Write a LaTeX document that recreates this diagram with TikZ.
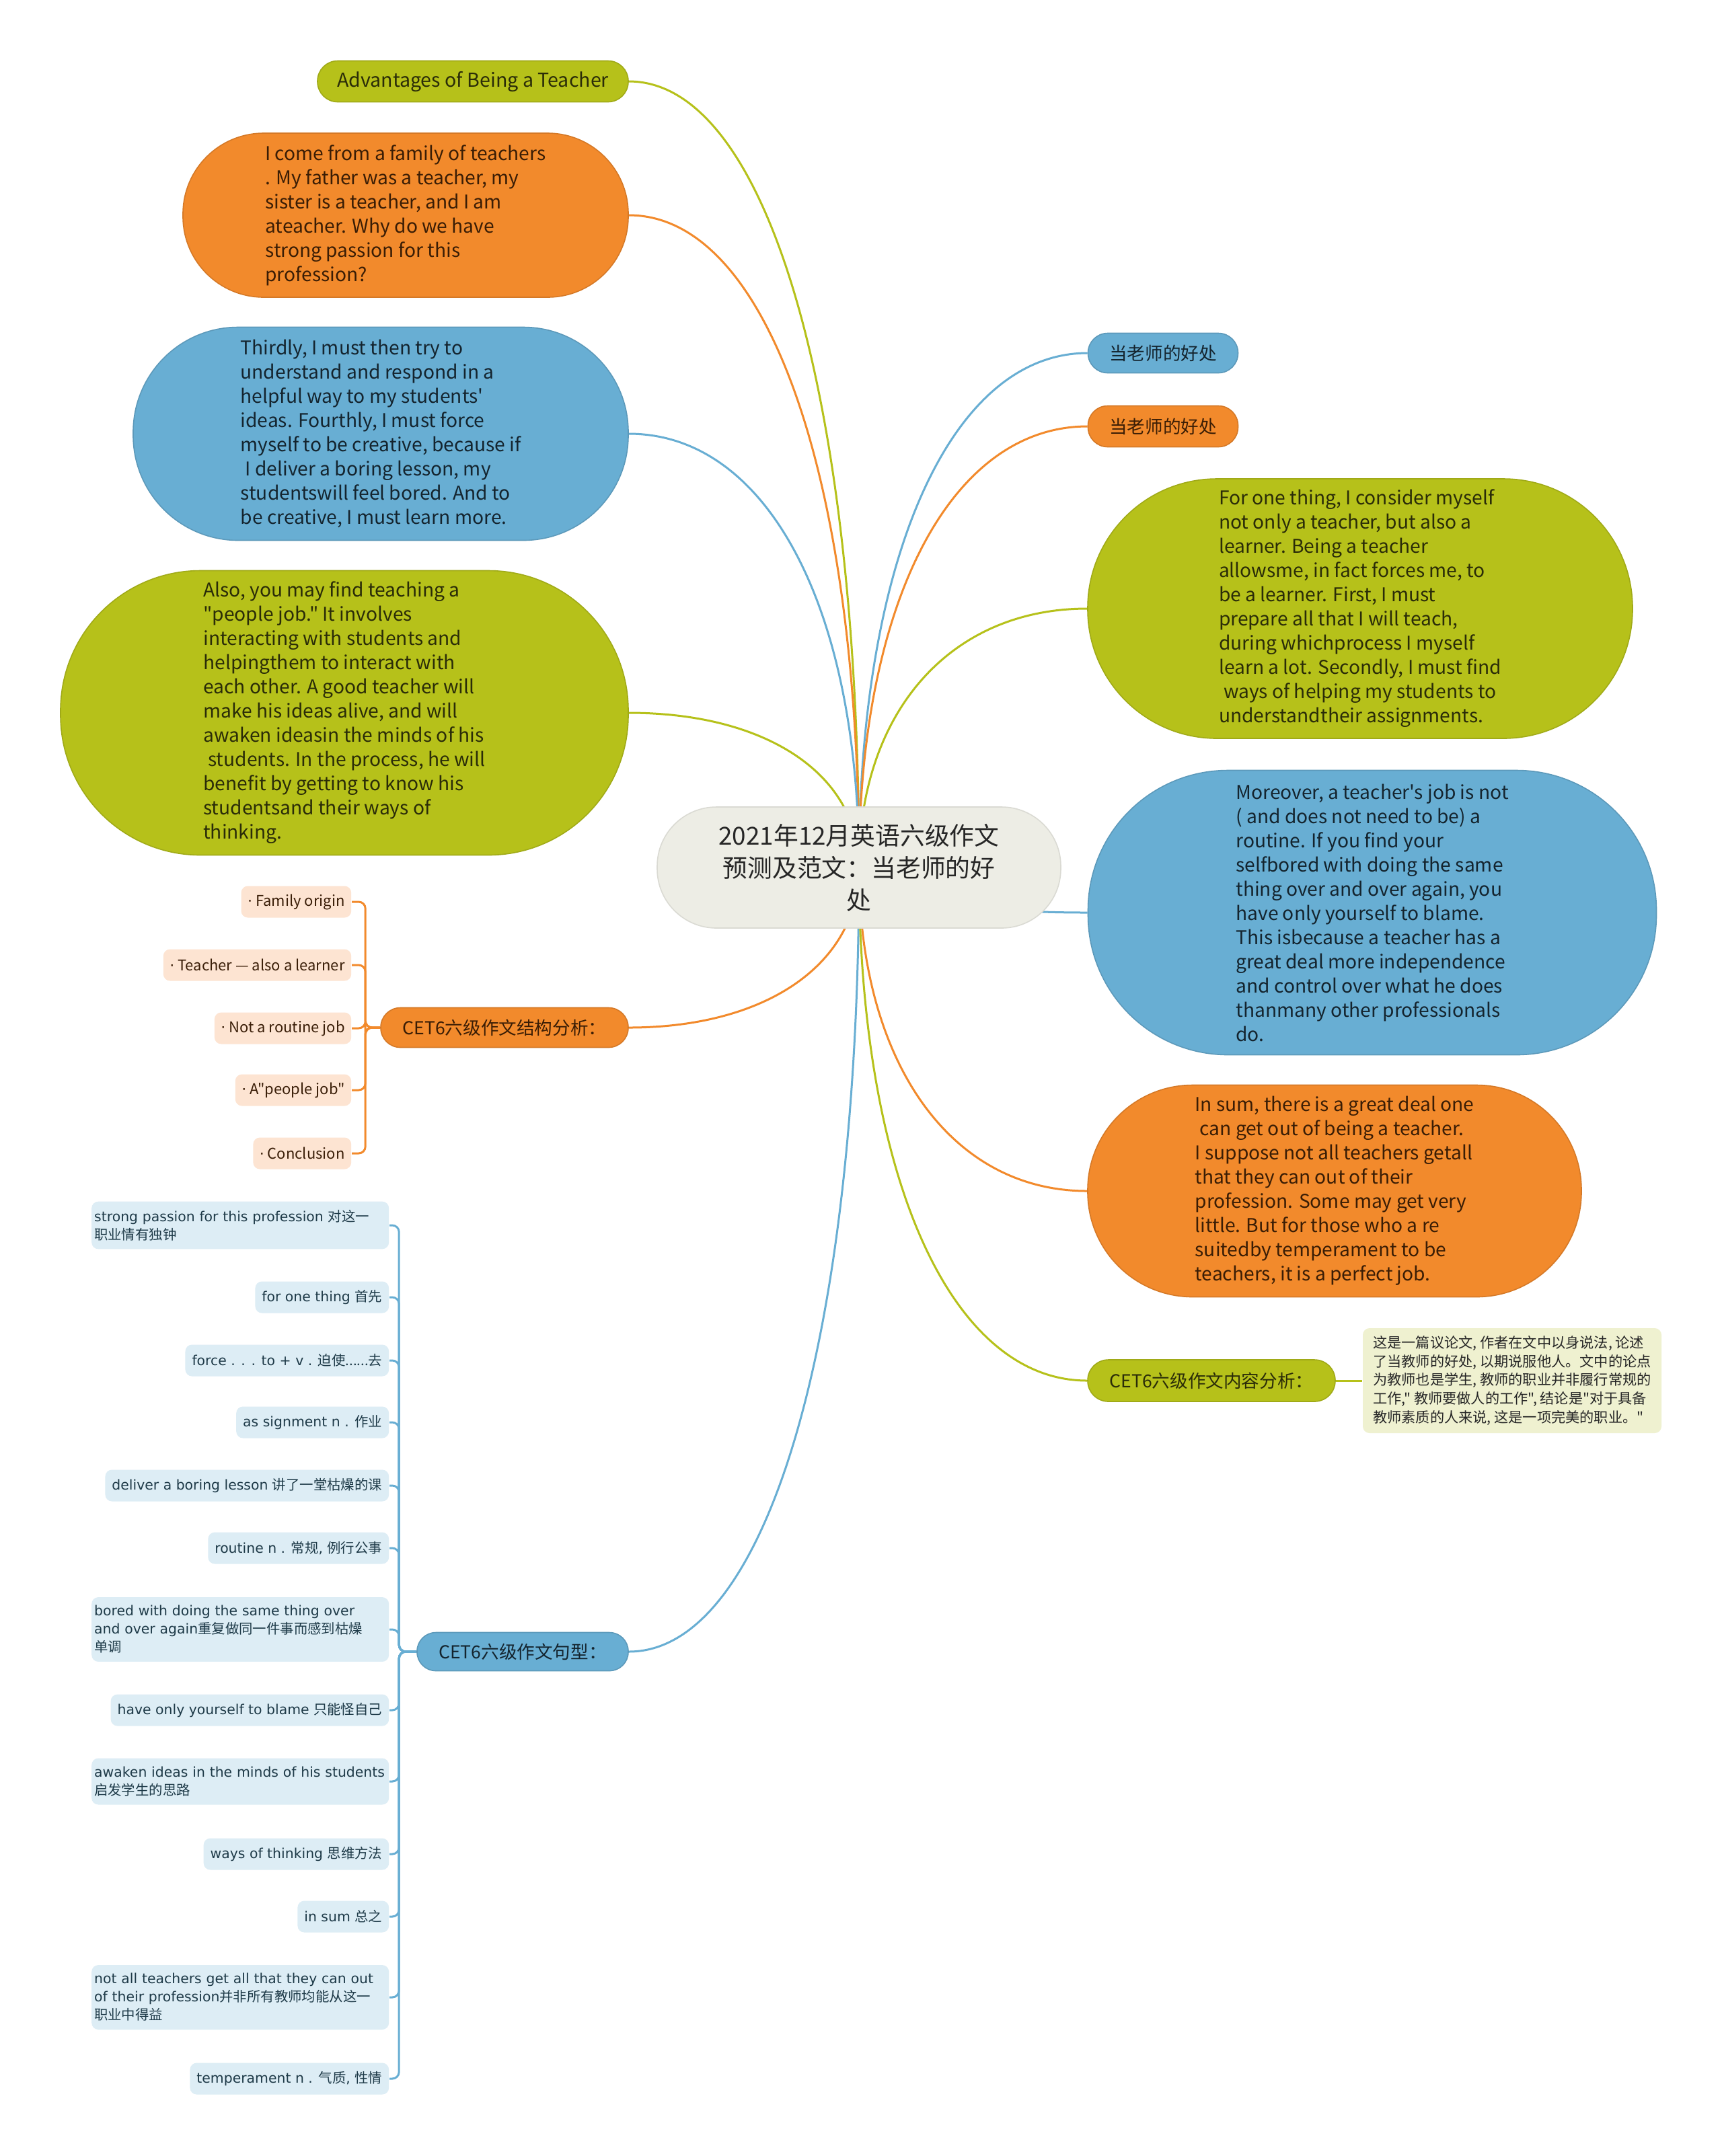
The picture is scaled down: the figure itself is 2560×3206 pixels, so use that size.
\documentclass[tikz,border=0pt]{standalone}
\usepackage{fontspec}
\newfontfamily\vf{DejaVu Sans}
\newfontfamily\cjk{Noto Sans CJK SC}
\usetikzlibrary{calc}
\pgfdeclarelayer{bg}
\pgfsetlayers{bg,main}
\definecolor{olv}{HTML}{B6C11A}
\definecolor{org}{HTML}{F28A2C}
\definecolor{blu}{HTML}{68AED3}
\definecolor{ctr}{HTML}{EDEDE5}
\definecolor{pch}{HTML}{FDE4D2}
\definecolor{lbl}{HTML}{DDEDF5}
\definecolor{lgr}{HTML}{EFF1D0}
\definecolor{tol}{HTML}{2A2C08}
\definecolor{tor}{HTML}{3A1D05}
\definecolor{tbl}{HTML}{14242E}
\definecolor{tpc}{HTML}{3A1E08}
\definecolor{tvb}{HTML}{1E3A48}
\begin{document}
\begin{tikzpicture}[x=0.25pt,y=-0.25pt,
  bub/.style={rectangle, inner sep=0pt, line width=0.4pt},
  ob/.style={bub, fill=olv, draw=olv!88!black, text=tol},
  rb/.style={bub, fill=org, draw=org!88!black, text=tor},
  bb/.style={bub, fill=blu, draw=blu!88!black, text=tbl},
  big/.style={align=left, font=\cjk\fontsize{7.05pt}{9pt}\selectfont},
  lvl/.style={align=center, font=\cjk\fontsize{6.65pt}{8pt}\selectfont, minimum height=14.75pt, rounded corners=7.3pt},
  pchbox/.style={rectangle, fill=pch, text=tpc, anchor=east, rounded corners=2.5pt, inner xsep=2.4pt, inner ysep=0pt, minimum height=11.75pt, font=\cjk\fontsize{5.5pt}{7pt}\selectfont},
  voc/.style={rectangle, fill=lbl, text=tvb, anchor=east, rounded corners=2.5pt, inner xsep=2.5pt, inner ysep=3.1pt, minimum height=11.75pt, align=left, font=\vf\fontsize{5.1pt}{6.75pt}\selectfont},
  vocw/.style={voc, text width=108.5pt, inner xsep=1pt},
  conn/.style={line width=0.75pt},
  mcurve/.style={to path={.. controls ($(\tikztostart)!0.6!(\tikztostart|-\tikztotarget)$) and ($(\tikztotarget)!0.6!(\tikztostart|-\tikztotarget)$) .. (\tikztotarget)}}
]
\path[use as bounding box] (0,0) rectangle (2560,3206);

% centre
\node[bub, fill=ctr, draw=ctr!92!black, minimum width=150pt, minimum height=45pt, rounded corners=22pt, align=center, text=black!85, font=\cjk\fontsize{9.2pt}{12pt}\selectfont] (c) at (1277,1290) {2021年12月英语六级作文\\预测及范文：当老师的好\\处};

% left main nodes
\node[ob, lvl, minimum width=115.5pt, minimum height=15.25pt, rounded corners=7.5pt, font=\cjk\fontsize{7.15pt}{9pt}\selectfont] (adv) at (703,121) {Advantages of Being a Teacher};

\node[rb, big, minimum width=165.5pt, minimum height=61pt, rounded corners=30pt] (fam) at (603,320) {I come from a family of teachers\\. My father was a teacher, my\\sister is a teacher, and I am\\ateacher. Why do we have\\strong passion for this\\profession?};

\node[bb, big, minimum width=184pt, minimum height=79.25pt, rounded corners=39pt] (third) at (566,645) {Thirdly, I must then try to\\understand and respond in a\\helpful way to my students'\\ideas. Fourthly, I must force\\myself to be creative, because if\\\hspace*{0.25em}I deliver a boring lesson, my\\studentswill feel bored. And to\\be creative, I must learn more.};

\node[ob, big, minimum width=211pt, minimum height=105.75pt, rounded corners=52pt] (also) at (512,1060) {Also, you may find teaching a\\"people job." It involves\\interacting with students and\\helpingthem to interact with\\each other. A good teacher will\\make his ideas alive, and will\\awaken ideasin the minds of his\\\hspace*{0.25em}students. In the process, he will\\benefit by getting to know his\\studentsand their ways of\\thinking.};

\node[rb, lvl, minimum width=92pt] (struct) at (750,1528) {CET6六级作文结构分析：};
\node[bb, lvl, minimum width=78.5pt, minimum height=14.25pt, rounded corners=7pt] (sent) at (777,2456) {CET6六级作文句型：};

% right main nodes
\node[bb, lvl, minimum width=55.75pt] (ben1) at (1729,525) {当老师的好处};
\node[rb, lvl, minimum width=55.75pt, minimum height=15.25pt] (ben2) at (1729,634) {当老师的好处};

\node[ob, big, minimum width=202.5pt, minimum height=96.5pt, rounded corners=48pt] (first) at (2022,905) {For one thing, I consider myself\\not only a teacher, but also a\\learner. Being a teacher\\allowsme, in fact forces me, to\\be a learner. First, I must\\prepare all that I will teach,\\during whichprocess I myself\\learn a lot. Secondly, I must find\\\hspace*{0.25em}ways of helping my students to\\understandtheir assignments.};

\node[bb, big, minimum width=211.25pt, minimum height=105.75pt, rounded corners=52pt] (more) at (2040,1357) {Moreover, a teacher's job is not\\( and does not need to be) a\\routine. If you find your\\selfbored with doing the same\\thing over and over again, you\\have only yourself to blame.\\This isbecause a teacher has a\\great deal more independence\\and control over what he does\\thanmany other professionals\\do.};

\node[rb, big, minimum width=183.5pt, minimum height=78.75pt, rounded corners=39pt] (sum) at (1984,1771) {In sum, there is a great deal one\\\hspace*{0.25em}can get out of being a teacher.\\I suppose not all teachers getall\\that they can out of their\\profession. Some may get very\\little. But for those who a re\\suitedby temperament to be\\teachers, it is a perfect job.};

\node[ob, lvl, minimum width=92pt, minimum height=15.5pt, rounded corners=7.7pt] (content) at (1801,2053) {CET6六级作文内容分析：};

\node[rectangle, fill=lgr, text=black!85, rounded corners=2.5pt, inner sep=0pt, minimum width=111pt, minimum height=39pt, align=left, font=\cjk\fontsize{5.3pt}{6.9pt}\selectfont] (cdesc) at (2248,2053) {这是一篇议论文, 作者在文中以身说法, 论述\\了当教师的好处, 以期说服他人。文中的论点\\为教师也是学生, 教师的职业并非履行常规的\\工作," 教师要做人的工作", 结论是"对于具备\\教师素质的人来说, 这是一项完美的职业。"};

% structure children
\node[pchbox] (p1) at (523,1341) {{\vf ·} Family origin};
\node[pchbox] (p2) at (523,1435) {{\vf ·} Teacher — also a learner};
\node[pchbox] (p3) at (523,1529) {{\vf ·} Not a routine job};
\node[pchbox] (p4) at (523,1621) {{\vf ·} A"people job"};
\node[pchbox] (p5) at (523,1715) {{\vf ·} Conclusion};

% sentence children
\node[vocw] (v1) at (579,1822) {strong passion for this profession {\cjk 对这一}\\{\cjk 职业情有独钟}};
\node[voc] (v2) at (579,1929) {for one thing {\cjk 首先}};
\node[voc] (v3) at (579,2023) {force . . . to + v . {\cjk 迫使......去}};
\node[voc] (v4) at (579,2115) {as signment n . {\cjk 作业}};
\node[voc] (v5) at (579,2209) {deliver a boring lesson {\cjk 讲了一堂枯燥的课}};
\node[voc] (v6) at (579,2302) {routine n . {\cjk 常规}, {\cjk 例行公事}};
\node[vocw] (v7) at (579,2423) {bored with doing the same thing over\\and over again{\cjk 重复做同一件事而感到枯燥}\\{\cjk 单调}};
\node[voc] (v8) at (579,2543) {have only yourself to blame {\cjk 只能怪自己}};
\node[vocw] (v9) at (579,2649) {awaken ideas in the minds of his students\\{\cjk 启发学生的思路}};
\node[voc] (v10) at (579,2757) {ways of thinking {\cjk 思维方法}};
\node[voc] (v11) at (579,2850) {in sum {\cjk 总之}};
\node[vocw] (v12) at (579,2970) {not all teachers get all that they can out\\of their profession{\cjk 并非所有教师均能从这一}\\{\cjk 职业中得益}};
\node[voc] (v13) at (579,3091) {temperament n . {\cjk 气质}, {\cjk 性情}};

\begin{pgfonlayer}{bg}
  \fill[white] (0,0) rectangle (2560,3206);
  \draw[olv, conn] (c.center) to[mcurve] (adv.east);
  \draw[org, conn] (c.center) to[mcurve] (fam.east);
  \draw[blu, conn] (c.center) to[mcurve] (third.east);
  \draw[olv, conn] (c.center) to[mcurve] (also.east);
  \draw[org, conn] (c.center) to[mcurve] (struct.east);
  \draw[blu, conn] (c.center) to[mcurve] (sent.east);
  \draw[blu, conn] (c.center) to[mcurve] (ben1.west);
  \draw[org, conn] (c.center) to[mcurve] (ben2.west);
  \draw[olv, conn] (c.center) to[mcurve] (first.west);
  \draw[blu, conn] (c.center) to[mcurve] (more.west);
  \draw[org, conn] (c.center) to[mcurve] (sum.west);
  \draw[olv, conn] (c.center) to[mcurve] (content.west);
  \draw[olv, conn] (content.east) -- (cdesc.west);
  \foreach \n in {p1,p2,p3,p4,p5}
    \draw[org, conn, rounded corners=2.5pt] (struct.west) -- ++(-22,0) |- (\n.east);
  \foreach \n in {v1,v2,v3,v4,v5,v6,v7,v8,v9,v10,v11,v12,v13}
    \draw[blu, conn, rounded corners=2.5pt] (sent.west) -- ++(-26,0) |- (\n.east);
\end{pgfonlayer}
\end{tikzpicture}
\end{document}
